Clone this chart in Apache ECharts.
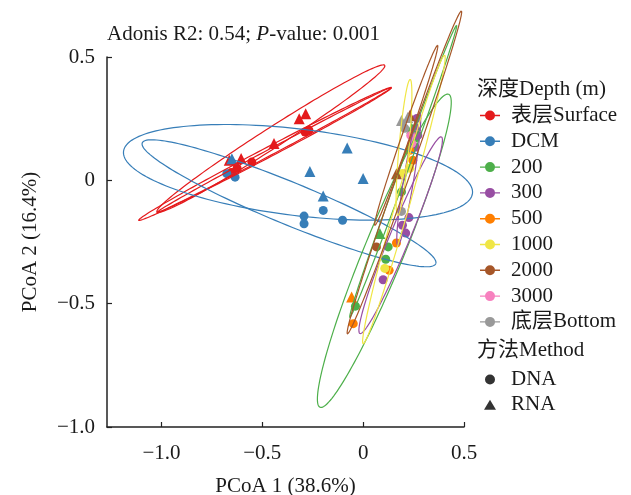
<!DOCTYPE html>
<html lang="zh">
<head>
    <meta charset="UTF-8">
    <title>PCoA</title>
    <script src="https://cdn.jsdelivr.net/npm/echarts@6.0.0/dist/echarts.min.js"></script>
    <style>
        html, body { margin: 0; padding: 0; background: #fff; }
        #main { width: 631px; height: 495px; }
    </style>
</head>
<body>
<div id="main"></div>
<script>
    // 分组名称
    const depthNames = ['表层Surface', 'DCM', '200', '300', '500', '1000', '2000', '3000', '底层Bottom'];
    const methodNames = ['DNA', 'RNA'];

    // 各深度的点 [PCoA1, PCoA2]
    const surfaceDNA = [[-0.288, 0.196], [-0.269, 0.203], [-0.552, 0.074], [-0.654, 0.032], [-0.625, 0.049]];
    const surfaceRNA = [[-0.285, 0.270], [-0.317, 0.250], [-0.442, 0.149], [-0.605, 0.089], [-0.664, 0.081]];
    const dcmDNA = [[-0.198, -0.122], [-0.293, -0.145], [-0.293, -0.176], [-0.102, -0.162], [-0.676, 0.027], [-0.635, 0.013]];
    const dcmRNA = [[-0.079, 0.131], [-0.264, 0.036], [0.0, 0.007], [-0.198, -0.064], [-0.651, 0.088]];
    const d200DNA = [[0.256, 0.170], [0.190, -0.047], [0.124, -0.270], [0.112, -0.320], [-0.038, -0.510]];
    const d200RNA = [[0.083, -0.216], [0.241, 0.211]];
    const d300DNA = [[0.266, 0.251], [0.256, 0.134], [0.271, 0.182], [0.227, -0.151], [0.195, -0.182], [0.211, -0.214], [0.099, -0.403]];
    const d300RNA = [[0.261, 0.223]];
    const d500DNA = [[0.231, 0.122], [0.246, 0.081], [0.165, -0.254], [0.129, -0.365], [-0.049, -0.581]];
    const d500RNA = [[-0.057, -0.473]];
    const d1000DNA = [[0.231, 0.049], [0.196, 0.028], [0.107, -0.357]];
    const d1000RNA = [];
    const d2000DNA = [[0.066, -0.270]];
    const d2000RNA = [[0.165, 0.027], [0.231, 0.263]];
    const d3000DNA = [[0.236, 0.182], [0.241, 0.150]];
    const d3000RNA = [];
    const bottomDNA = [[0.206, 0.211], [0.190, -0.126]];
    const bottomRNA = [[0.190, 0.243], [0.221, 0.255]];

    // 置信椭圆: [长轴端点1 x, y, 长轴端点2 x, y, 短半轴向量 x, y]
    const surfaceEll = [[-1.022, -0.128, 0.107, 0.466, 0.027, -0.034], [-1.113, -0.162, 0.140, 0.376, 0.0115, -0.018], [-1.022, -0.130, 0.140, 0.376, 0.007, -0.011]];
    const dcmEll = [[-1.188, 0.118, 0.542, -0.053, 0.027, 0.174], [-1.095, 0.152, 0.360, -0.338, 0.040, 0.079]];
    const d200Ell = [[-0.214, -0.920, 0.424, 0.349, 0.0915, -0.031], [-0.066, -0.555, 0.463, 0.628, 0.0186, -0.0056]];
    const d300Ell = [[-0.016, -0.621, 0.388, 0.176, 0.0456, -0.0156], [0.172, -0.263, 0.280, 0.272, 0.0244, -0.0033]];
    const d500Ell = [];
    const d1000Ell = [[0.172, -0.142, 0.233, 0.409, 0.0246, -0.0019], [0.0, -0.662, 0.404, 0.507, 0.0333, -0.0077]];
    const d2000Ell = [[-0.078, -0.622, 0.487, 0.686, 0.028, -0.0081], [0.058, -0.182, 0.369, 0.547, 0.0187, -0.0054]];
    const d3000Ell = [];
    const bottomEll = [];

    const xTicks = [-1.0, -0.5, 0, 0.5];

    const pointsDNA = [surfaceDNA, dcmDNA, d200DNA, d300DNA, d500DNA, d1000DNA, d2000DNA, d3000DNA, bottomDNA];
    const pointsRNA = [surfaceRNA, dcmRNA, d200RNA, d300RNA, d500RNA, d1000RNA, d2000RNA, d3000RNA, bottomRNA];
    const ellipses = [surfaceEll, dcmEll, d200Ell, d300Ell, d500Ell, d1000Ell, d2000Ell, d3000Ell, bottomEll];

    const colors = ['#E41A1C', '#377EB8', '#4DAF4A', '#984EA3', '#FF7F00', '#F0E645', '#A65628', '#F781BF', '#999999'];
    const font = "'Liberation Serif','Times New Roman','Noto Sans CJK SC',serif";
    const fs = 21;
    const txt = '#1a1a1a';
    // 图例图标
    const lineDot = 'path://M0,4.3h20v1.4H0z M15,5a5,5 0 1,1 -10,0a5,5 0 1,1 10,0z';
    const dotIcon = 'path://M15,5a5,5 0 1,1 -10,0a5,5 0 1,1 10,0z M0,0h0.01v0.01H0z M19.99,9.99h0.01v0.01h-0.01z';
    const triIcon = 'path://M10,0L16,10H4z M0,0h0.01v0.01H0z M19.99,9.99h0.01v0.01h-0.01z';

    function fmt(v) {
        if (v === 0) return '0';
        return v.toFixed(1).replace('-', '\u2212');
    }

    function ellipseItem(params, api) {
        const x1 = api.value(0), y1 = api.value(1), x2 = api.value(2), y2 = api.value(3);
        const vx = api.value(4), vy = api.value(5);
        const cx = (x1 + x2) / 2, cy = (y1 + y2) / 2, ux = (x2 - x1) / 2, uy = (y2 - y1) / 2;
        const pts = [];
        for (let k = 0; k <= 160; k++) {
            const t = k / 160 * Math.PI * 2;
            pts.push(api.coord([cx + ux * Math.cos(t) + vx * Math.sin(t), cy + uy * Math.cos(t) + vy * Math.sin(t)]));
        }
        return {
            type: 'polyline',
            shape: { points: pts },
            style: { fill: 'none', stroke: api.visual('color'), lineWidth: 1.2 }
        };
    }

    let series = [];
    for (let i = 0; i < depthNames.length; i++) {
        let data = [];
        pointsDNA[i].forEach(p => data.push({ value: p, symbol: 'circle', symbolSize: 9 }));
        pointsRNA[i].forEach(p => data.push({ value: p, symbol: 'triangle', symbolSize: 11 }));
        series.push({
            name: depthNames[i],
            type: 'scatter',
            data: data,
            itemStyle: { color: colors[i], opacity: 1 },
            z: 2
        });
    }
    for (let i = 0; i < depthNames.length; i++) {
        if (!ellipses[i].length) continue;
        series.push({
            name: depthNames[i],
            type: 'custom',
            renderItem: ellipseItem,
            data: ellipses[i],
            encode: { x: [0, 2], y: [1, 3] },
            itemStyle: { color: colors[i] },
            clip: false,
            silent: true,
            z: 3
        });
    }
    // 方法图例
    series.push({ name: 'DNA', type: 'scatter', data: [], symbol: 'circle', itemStyle: { color: '#000' } });
    series.push({ name: 'RNA', type: 'scatter', data: [], symbol: 'triangle', itemStyle: { color: '#000' } });

    let myChart = echarts.init(document.getElementById('main'));
    let option = {
        animation: false,
        backgroundColor: '#fff',
        title: [
            {
                text: 'Adonis R2: 0.54; {i|P}-value: 0.001',
                left: 102, top: 19,
                textStyle: {
                    fontFamily: font, fontSize: fs, fontWeight: 'normal', color: txt,
                    rich: { i: { fontFamily: font, fontSize: fs, fontStyle: 'italic', color: txt } }
                }
            },
            {
                text: '深度Depth (m)', left: 472, top: 74,
                textStyle: { fontFamily: font, fontSize: fs, fontWeight: 'normal', color: txt }
            },
            {
                text: '方法Method', left: 472, top: 335,
                textStyle: { fontFamily: font, fontSize: fs, fontWeight: 'normal', color: txt }
            }
        ],
        legend: [
            {
                orient: 'vertical', left: 480, top: 105, padding: 0,
                itemWidth: 20, itemHeight: 10, itemGap: 4.8,
                data: depthNames.map((n, i) => ({ name: n, icon: lineDot, itemStyle: { color: colors[i] } })),
                textStyle: { fontFamily: font, fontSize: fs, color: txt, padding: [0, 0, 0, 6], lineHeight: 20 }
            },
            {
                orient: 'vertical', left: 480, top: 369, padding: 0,
                itemWidth: 20, itemHeight: 10, itemGap: 4.2,
                data: [
                    { name: 'DNA', icon: dotIcon, itemStyle: { color: '#000' } },
                    { name: 'RNA', icon: triIcon, itemStyle: { color: '#000' } }
                ],
                textStyle: { fontFamily: font, fontSize: fs, color: txt, padding: [0, 0, 0, 6], lineHeight: 20 }
            }
        ],
        grid: { left: 107, top: 57, right: 167, bottom: 68, outerBoundsMode: 'none', containLabel: false },
        xAxis: {
            type: 'value', min: -1.27, max: 0.5,
            name: 'PCoA 1 (38.6%)', nameLocation: 'middle', nameGap: 49,
            nameTextStyle: { fontFamily: font, fontSize: fs, color: txt },
            axisLine: { show: true, onZero: false, lineStyle: { color: '#222', width: 1.5 } },
            axisTick: { show: true, inside: true, length: 5, customValues: xTicks, lineStyle: { color: '#222', width: 1.2 } },
            axisLabel: { customValues: xTicks, formatter: fmt, margin: 16, fontFamily: font, fontSize: fs, color: txt },
            splitLine: { show: false }
        },
        yAxis: {
            type: 'value', min: -1.0, max: 0.5, interval: 0.5,
            name: 'PCoA 2 (16.4%)', nameLocation: 'middle', nameGap: 66,
            nameTextStyle: { fontFamily: font, fontSize: fs, color: txt },
            axisLine: { show: true, onZero: false, lineStyle: { color: '#222', width: 1.5 } },
            axisTick: { show: true, inside: true, length: 5, lineStyle: { color: '#222', width: 1.2 } },
            axisLabel: { formatter: fmt, margin: 12, fontFamily: font, fontSize: fs, color: txt },
            splitLine: { show: false }
        },
        series: series
    };
    myChart.setOption(option);
</script>
</body>
</html>
